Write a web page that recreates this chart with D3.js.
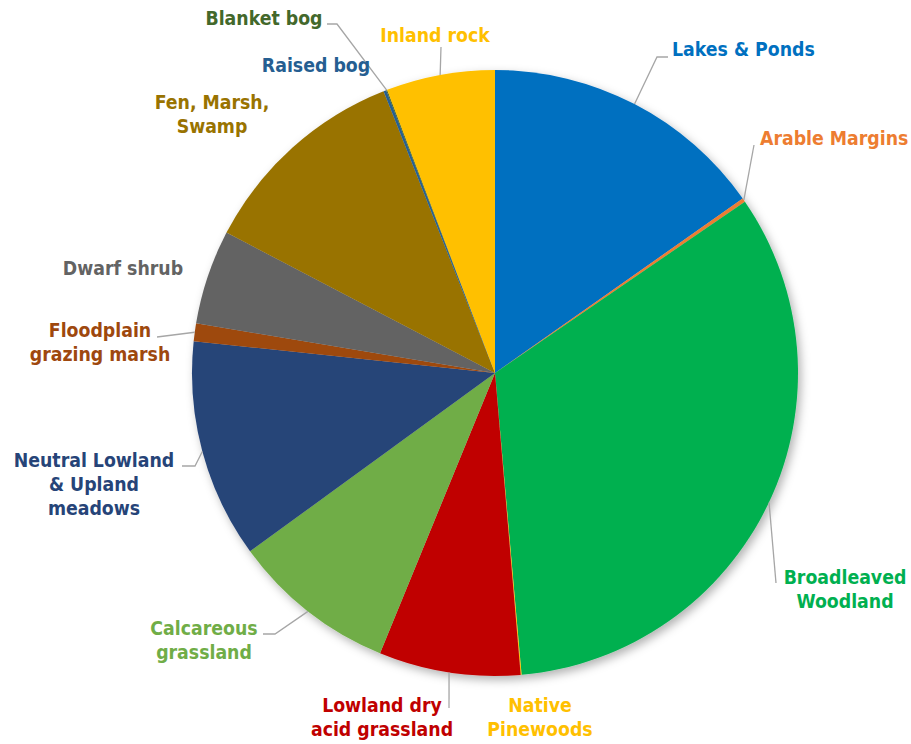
<!DOCTYPE html>
<html>
<head>
<meta charset="utf-8">
<script src="https://cdn.jsdelivr.net/npm/d3@7"></script>
<style>
  html, body { margin: 0; padding: 0; background: #ffffff; }
  svg { display: block; }
  text { font-family: "DejaVu Sans", sans-serif; font-stretch: condensed; font-weight: bold; font-size: 19.3px; }
</style>
</head>
<body>
<svg id="chart" width="911" height="744"></svg>
<script>
// ---- data ----
const categories = [
  "Lakes & Ponds", "Arable Margins", "Broadleaved Woodland", "Native Pinewoods",
  "Lowland dry acid grassland", "Calcareous grassland", "Neutral Lowland & Upland meadows",
  "Floodplain grazing marsh", "Dwarf shrub", "Fen, Marsh, Swamp", "Raised bog",
  "Blanket bog", "Inland rock"
];
const values = [15.25, 0.2, 33.2, 0.05, 7.55, 8.8, 11.7, 0.95, 5.05, 11.35, 0.15, 0.05, 5.8];
const colors = [
  "#0070C0", "#ED7D31", "#00B050", "#FFC000", "#C00000", "#70AD47", "#264478",
  "#9E480E", "#636363", "#997300", "#255E91", "#43682B", "#FFC000"
];
const labelLines = [
  ["Lakes & Ponds"], ["Arable Margins"], ["Broadleaved", "Woodland"], ["Native", "Pinewoods"],
  ["Lowland dry", "acid grassland"], ["Calcareous", "grassland"], ["Neutral Lowland", "& Upland", "meadows"],
  ["Floodplain", "grazing marsh"], ["Dwarf shrub"], ["Fen, Marsh,", "Swamp"], ["Raised bog"],
  ["Blanket bog"], ["Inland rock"]
];

// ---- layout (label placement, not data) ----
const cx = 495, cy = 373, R = 303;
const lineH = 24;
const labelLayout = [
  { x: 672, y: 56, anchor: "start", leader: [[657, 57], [668, 57]] },
  { x: 760, y: 145, anchor: "start", leader: [[754, 145]] },
  { x: 845, y: 584, anchor: "middle", leader: [[776, 583]] },
  { x: 540, y: 712, anchor: "middle", leader: null },
  { x: 382, y: 712, anchor: "middle", leader: [[449, 708]] },
  { x: 204, y: 635, anchor: "middle", leader: [[275, 634], [263, 634]] },
  { x: 94, y: 467, anchor: "middle", leader: [[195, 466], [182, 466]] },
  { x: 100, y: 337, anchor: "middle", leader: [[157, 337]] },
  { x: 123, y: 275, anchor: "middle", leader: null },
  { x: 212, y: 109, anchor: "middle", leader: null },
  { x: 316, y: 72, anchor: "middle", leader: null },
  { x: 264, y: 25, anchor: "middle", leader: [[337, 24], [327, 24]] },
  { x: 435, y: 42, anchor: "middle", leader: [[441, 47]] }
];

const svg = d3.select("#chart");
const defs = svg.append("defs");
const f = defs.append("filter").attr("id", "shadow")
  .attr("x", "-10%").attr("y", "-10%").attr("width", "120%").attr("height", "120%");
f.append("feDropShadow").attr("dx", 3).attr("dy", 4).attr("stdDeviation", 5)
  .attr("flood-color", "#000").attr("flood-opacity", 0.3);

const data = categories.map((c, i) => ({ name: c, value: values[i], i }));
const pie = d3.pie().value(d => d.value).sort(null);
const arcs = pie(data);
const arc = d3.arc().innerRadius(0).outerRadius(R);

const g = svg.append("g").attr("transform", `translate(${cx},${cy})`);
const slices = g.append("g").attr("filter", "url(#shadow)");
slices.selectAll("path").data(arcs).enter().append("path")
  .attr("d", arc)
  .attr("fill", d => colors[d.data.i]);

// leaders
const lineGen = d3.line();
arcs.forEach(a => {
  const L = labelLayout[a.data.i];
  if (!L.leader) return;
  const mid = (a.startAngle + a.endAngle) / 2;
  const p0 = [cx + R * Math.sin(mid), cy - R * Math.cos(mid)];
  svg.append("path")
    .attr("d", lineGen([p0, ...L.leader]))
    .attr("fill", "none")
    .attr("stroke", "#A6A6A6")
    .attr("stroke-width", 1.3);
});

// labels
arcs.forEach(a => {
  const i = a.data.i;
  const L = labelLayout[i];
  const t = svg.append("text")
    .attr("x", L.x).attr("y", L.y)
    .attr("text-anchor", L.anchor)
    .attr("fill", colors[i]);
  labelLines[i].forEach((ln, k) => {
    t.append("tspan").attr("x", L.x).attr("y", L.y + k * lineH).text(ln);
  });
});
</script>
</body>
</html>
